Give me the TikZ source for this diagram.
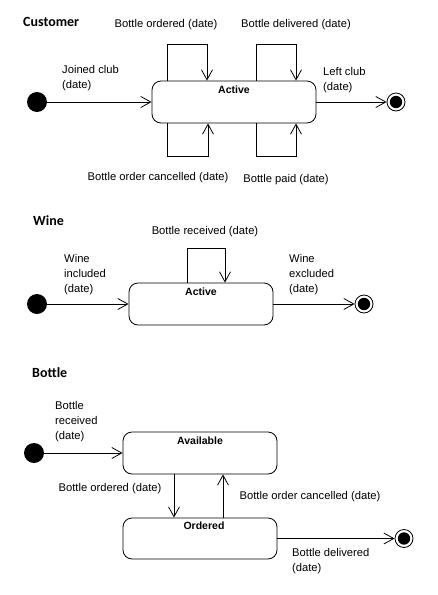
\documentclass[tikz,border=0pt]{standalone}
\usepackage{fontspec}
\setmainfont{Liberation Sans}
\newfontfamily\titlefont{Carlito}
\usetikzlibrary{arrows.meta}
\tikzset{
  ln/.style={line width=0.8pt},
  arr/.style={ln,-{Straight Barb[length=10pt,width=11pt,line width=0.8pt]}},
  initst/.style={circle,fill=black,minimum size=20pt,inner sep=0pt},
  finalst/.style={circle,draw,ln,minimum size=18pt,inner sep=0pt,
    path picture={\fill (path picture bounding box.center) circle (6.2pt);}},
  statebox/.style={draw,ln,rounded corners=9pt,inner sep=0pt},
  sname/.style={font=\fontsize{10.5}{12}\selectfont\bfseries,inner sep=0pt},
  lbl/.style={font=\fontsize{11.2}{15}\selectfont,inner sep=0pt,align=left},
  ttl/.style={font=\fontsize{14}{16}\selectfont\titlefont\bfseries,inner sep=0pt,anchor=west},
}
\begin{document}
\begin{tikzpicture}[x=1pt,y=-1pt]
\useasboundingbox (0,0) rectangle (437,595);
% ---------------- Customer
\node[ttl] (tc) at (23,22) {Customer};
\node[initst] (c0) at (37,102) {};
\node[statebox,minimum width=164pt,minimum height=42pt] (ca) at (234,102) {};
\node[sname] (caL) at (234,90) {Active};
\node[finalst] (cf) at (396,102) {};
\draw[arr] (c0) -- (ca);
\draw[arr] (ca) -- (cf);
\draw[arr] ([xshift=-67pt]ca.north) -- ++(0,-36) -- ++(40,0) -- ([xshift=-27pt]ca.north);
\draw[arr] ([xshift=22pt]ca.north) -- ++(0,-36) -- ++(40,0) -- ([xshift=62pt]ca.north);
\draw[arr] ([xshift=-67pt]ca.south) -- ++(0,33) -- ++(41,0) -- ([xshift=-26pt]ca.south);
\draw[arr] ([xshift=22pt]ca.south) -- ++(0,33) -- ++(40,0) -- ([xshift=62pt]ca.south);
\node[lbl] (l1) at (166,25) {Bottle ordered (date)};
\node[lbl] (l2) at (296,25) {Bottle delivered (date)};
\node[lbl,anchor=west] (l3) at (62,78.5) {Joined club\\(date)};
\node[lbl,anchor=west] (l4) at (323,80) {Left club\\(date)};
\node[lbl] (l5) at (158,178) {Bottle order cancelled (date)};
\node[lbl] (l6) at (286,180) {Bottle paid (date)};
% ---------------- Wine
\node[ttl] (tw) at (33,221) {Wine};
\node[initst] (w0) at (37,304) {};
\node[statebox,minimum width=144pt,minimum height=42pt] (wa) at (201,304) {};
\node[sname] (waL) at (201,292) {Active};
\node[finalst] (wf) at (364,304) {};
\draw[arr] (w0) -- (wa);
\draw[arr] (wa) -- (wf);
\draw[arr] ([xshift=-14pt]wa.north) -- ++(0,-34) -- ++(38,0) -- ([xshift=24pt]wa.north);
\node[lbl] (l7) at (205,232) {Bottle received (date)};
\node[lbl,anchor=west] (l8) at (64,275) {Wine\\included\\(date)};
\node[lbl,anchor=west] (l9) at (289,275) {Wine\\excluded\\(date)};
% ---------------- Bottle
\node[ttl] (tb) at (32,373) {Bottle};
\node[initst] (b0) at (34,453) {};
\node[statebox,minimum width=154pt,minimum height=42pt] (ba) at (200,453) {};
\node[sname] (baL) at (200,441) {Available};
\node[statebox,minimum width=154pt,minimum height=41pt] (bo) at (200,538.5) {};
\node[sname] (boL) at (204,526) {Ordered};
\node[finalst] (bf) at (404,538.5) {};
\draw[arr] (b0) -- (ba);
\draw[arr] ([xshift=-26pt]ba.south) -- ([xshift=-26pt]bo.north);
\draw[arr] ([xshift=23pt]bo.north) -- ([xshift=23pt]ba.south);
\draw[arr] (bo) -- (bf);
\node[lbl,anchor=west] (l10) at (55,422) {Bottle\\received\\(date)};
\node[lbl] (l11) at (110,489) {Bottle ordered (date)};
\node[lbl] (l12) at (310,497) {Bottle order cancelled (date)};
\node[lbl,anchor=west] (l13) at (292,561.5) {Bottle delivered\\(date)};
\end{tikzpicture}
\end{document}
